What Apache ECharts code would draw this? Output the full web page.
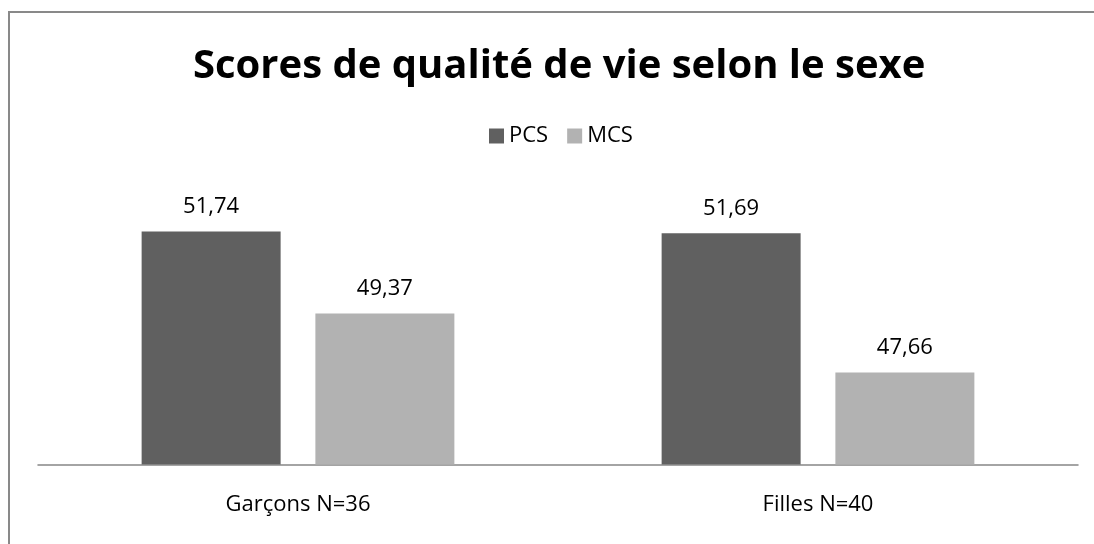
<!DOCTYPE html>
<html><head><meta charset="utf-8">
<script src="https://cdn.jsdelivr.net/npm/echarts@6/dist/echarts.min.js"></script>
<style>html,body{margin:0;padding:0;background:#fff}#c{width:1094px;height:544px}</style>
</head><body><div id="c"></div>
<script>
const categories = ['Garçons N=36', 'Filles N=40'];
const pcs = [51.74, 51.69];
const mcs = [49.37, 47.66];
const seriesNames = ['PCS', 'MCS'];

const chart = echarts.init(document.getElementById('c'));
const fam = '"Open Sans", "Noto Sans", sans-serif';
const fmt = p => p.value.toFixed(2).replace('.', ',');
chart.setOption({
  animation: false,
  backgroundColor: '#fff',
  textStyle: { fontFamily: fam },
  graphic: [{ type: 'rect', shape: { x: 9, y: 12, width: 1200, height: 600 }, style: { fill: 'none', stroke: '#898989', lineWidth: 2 }, silent: true }],
  title: { text: 'Scores de qualité de vie selon le sexe', left: 188, top: 42,
    textStyle: { fontFamily: fam, fontWeight: 'bold', fontSize: 40, color: '#000' } },
  legend: { data: seriesNames, top: 120, left: 484, itemWidth: 15, itemHeight: 15, itemGap: 19,
    icon: 'rect', textStyle: { fontFamily: fam, fontSize: 22, color: '#000' } },
  grid: { left: 38, right: 16, top: 188, bottom: 79.5 },
  xAxis: { type: 'category', data: categories,
    axisLine: { lineStyle: { color: '#868686', width: 1.5 } }, axisTick: { show: false },
    axisLabel: { margin: 29, fontFamily: fam, fontSize: 22, color: '#000' } },
  yAxis: { type: 'value', min: 45, max: 53, show: false, splitLine: { show: false } },
  series: [
    { name: 'PCS', type: 'bar', data: pcs, barWidth: 139, barGap: '25%', itemStyle: { color: '#606060' },
      label: { show: true, position: 'top', distance: 14, formatter: fmt, fontFamily: fam, fontSize: 22, color: '#000' } },
    { name: 'MCS', type: 'bar', data: mcs, barWidth: 139, itemStyle: { color: '#b2b2b2' },
      label: { show: true, position: 'top', distance: 14, formatter: fmt, fontFamily: fam, fontSize: 22, color: '#000' } }
  ]
});
</script></body></html>
